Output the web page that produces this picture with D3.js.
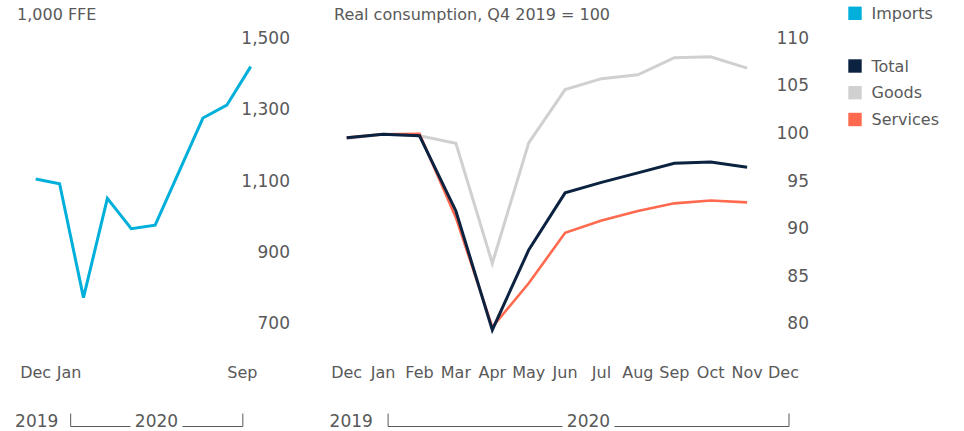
<!DOCTYPE html>
<html>
<head>
<meta charset="utf-8">
<script src="https://cdn.jsdelivr.net/npm/d3@7"></script>
<style>
    body { margin: 0; background: #fff; }
    text { font-family: "DejaVu Sans", sans-serif; fill: #595959; }
</style>
</head>
<body>
<script>
// left panel: container imports, Dec 2019 - Sep 2020
const importMonths = ["Dec", "Jan", "Feb", "Mar", "Apr", "May", "Jun", "Jul", "Aug", "Sep"];
const imports = [1104, 1091, 772, 1050, 965, 975, 1125, 1275, 1311, 1419];
const importTickLabels = ["Dec", "Jan", "Sep"];
const importTickAt = [0, 1.4, 8.65];
const importYTicks = [700, 900, 1100, 1300, 1500];

// right panel: real consumption, Dec 2019 - Dec 2020
const months = ["Dec", "Jan", "Feb", "Mar", "Apr", "May", "Jun", "Jul", "Aug", "Sep", "Oct", "Nov", "Dec"];
const total = [99.5, 99.85, 99.7, 91.8, 79.3, 87.7, 93.7, 94.8, 95.8, 96.8, 96.95, 96.4];
const goods = [99.4, 99.85, 99.7, 98.9, 86.3, 98.95, 104.55, 105.7, 106.1, 107.9, 108.0, 106.8];
const services = [99.5, 99.85, 99.9, 91.1, 79.6, 84.2, 89.5, 90.8, 91.8, 92.6, 92.9, 92.7];
const consYTicks = [80, 85, 90, 95, 100, 105, 110];

const colors = {
    Imports: "#00b0da",
    Total: "#0b2240",
    Goods: "#d0d0d0",
    Services: "#ff6a4f",
};

const width = 964, height = 431;
const svg = d3.select(document.body).append("svg")
    .attr("width", width)
    .attr("height", height);

const plotTop = 37.7, plotBottom = 323.3;
const numFmt = d3.format(",");

// ---- left panel ----
const xL = d3.scaleLinear().domain([0, importMonths.length - 1]).range([35.7, 250.7]);
const yL = d3.scaleLinear().domain([700, 1500]).range([plotBottom, plotTop]);

svg.append("text")
    .attr("x", 17).attr("y", 20)
    .style("font-size", "16px")
    .text("1,000 FFE");

svg.append("g")
    .selectAll("text")
    .data(importYTicks)
    .join("text")
    .attr("x", 290)
    .attr("y", d => yL(d))
    .attr("dy", "0.36em")
    .attr("text-anchor", "end")
    .style("font-size", "17px")
    .text(numFmt);

svg.append("path")
    .datum(imports)
    .attr("fill", "none")
    .attr("stroke", colors.Imports)
    .attr("stroke-width", 3)
    .attr("stroke-linejoin", "miter")
    .attr("d", d3.line().x((d, i) => xL(i)).y(d => yL(d)));

svg.append("g")
    .selectAll("text")
    .data(importTickLabels)
    .join("text")
    .attr("x", (d, i) => xL(importTickAt[i]))
    .attr("y", 378)
    .attr("text-anchor", "middle")
    .style("font-size", "16px")
    .text(d => d);

// ---- right panel ----
const xR = d3.scaleLinear().domain([0, months.length - 1]).range([346.7, 783.5]);
const yR = d3.scaleLinear().domain([80, 110]).range([plotBottom, plotTop]);

svg.append("text")
    .attr("x", 334).attr("y", 20)
    .style("font-size", "16px")
    .text("Real consumption, Q4 2019 = 100");

svg.append("g")
    .selectAll("text")
    .data(consYTicks)
    .join("text")
    .attr("x", 809)
    .attr("y", d => yR(d))
    .attr("dy", "0.36em")
    .attr("text-anchor", "end")
    .style("font-size", "17px")
    .text(d => d);

const consLine = d3.line().x((d, i) => xR(i)).y(d => yR(d));
[["Goods", goods, 3], ["Services", services, 2.6], ["Total", total, 3]].forEach(([name, values, w]) => {
    svg.append("path")
        .datum(values)
        .attr("fill", "none")
        .attr("stroke", colors[name])
        .attr("stroke-width", w)
        .attr("d", consLine);
});

svg.append("g")
    .selectAll("text")
    .data(months)
    .join("text")
    .attr("x", (d, i) => xR(i))
    .attr("y", 378)
    .attr("text-anchor", "middle")
    .style("font-size", "16px")
    .text(d => d);

// ---- year brackets ----
const yearRow = function(x2019, x0, x1, x2020) {
    const base = 426.5;
    svg.append("text")
        .attr("x", x2019).attr("y", 427)
        .attr("text-anchor", "middle")
        .style("font-size", "17px")
        .text("2019");
    svg.append("text")
        .attr("x", x2020).attr("y", 427)
        .attr("text-anchor", "middle")
        .style("font-size", "17px")
        .text("2020");
    const half = 26;
    svg.append("path")
        .attr("fill", "none")
        .attr("stroke", "#595959")
        .attr("stroke-width", 1)
        .attr("d", `M${x0},${base - 13}V${base}H${x2020 - half}M${x2020 + half},${base}H${x1}V${base - 13}`);
};
yearRow(xL(0) + 1, xL(importTickAt[1]) + 1.5, xL(importTickAt[2]) + 0.5, 156.5 - 0);
yearRow(xR(0) + 4.5, xR(1) + 5, xR(12) + 5.5, 588.5);

// ---- legend ----
const legendItems = [["Imports", 13.3], ["Total", 66], ["Goods", 92.7], ["Services", 119.5]];
const legend = svg.append("g");
legendItems.forEach(([name, cy]) => {
    legend.append("rect")
        .attr("x", 848.3).attr("y", cy - 6.7)
        .attr("width", 13.4).attr("height", 13.4)
        .attr("fill", colors[name]);
    legend.append("text")
        .attr("x", 871.5).attr("y", cy)
        .attr("dy", "0.36em")
        .style("font-size", "16px")
        .text(name);
});
</script>
</body>
</html>
